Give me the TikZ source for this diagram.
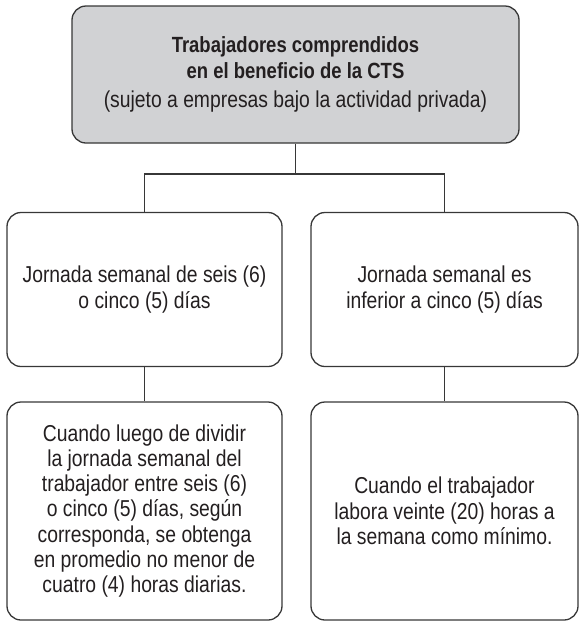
\documentclass[tikz,border=0pt]{standalone}
\usepackage{fontspec}
\setmainfont{Liberation Sans}[FakeStretch=0.84]
\definecolor{topgray}{RGB}{209,210,212}
\definecolor{linec}{RGB}{55,55,55}
\definecolor{txtc}{RGB}{35,31,32}
\tikzset{
  box/.style={draw=linec, line width=1.3pt, rounded corners=14pt, align=center,
    inner sep=0pt, text=txtc, font=\fontsize{23}{25.3}\selectfont},
  conn/.style={draw=linec, line width=1.4pt}
}
\begin{document}
\begin{tikzpicture}[x=1pt,y=-1pt]
\useasboundingbox (0,0) rectangle (579,622);
\node[box, fill=topgray, minimum width=447pt, minimum height=137pt,
      font=\fontsize{23}{25.6}\selectfont] (top) at (295.5,74.5)
  {{\fontsize{22}{25.6}\selectfont\bfseries Trabajadores comprendidos}\\{\fontsize{22}{25.6}\selectfont\bfseries en el beneficio de la CTS}\\[3.1pt](sujeto a empresas bajo la actividad privada)};
\node[box, minimum width=275pt, minimum height=154pt] (lm) at (144.5,289.5)
  {Jornada semanal de seis (6)\\o cinco (5) días};
\node[box, minimum width=267pt, minimum height=154pt] (rm) at (444.5,289.5)
  {Jornada semanal es\\inferior a cinco (5) días};
\node[box, minimum width=275pt, minimum height=218pt] (lb) at (144.5,511)
  {Cuando luego de dividir\\la jornada semanal del\\trabajador entre seis (6)\\o cinco (5) días, según\\corresponda, se obtenga\\en promedio no menor de\\cuatro (4) horas diarias.};
\node[box, minimum width=267pt, minimum height=218pt] (rb) at (444.5,511)
  {Cuando el trabajador\\labora veinte (20) horas a\\la semana como mínimo.};
\coordinate (bus) at (295.5,174);
\draw[conn] (top.south) -- (bus);
\draw[conn] (lm.north) |- (bus) -| (rm.north);
\draw[conn] (lm.south) -- (lb.north);
\draw[conn] (rm.south) -- (rb.north);
\end{tikzpicture}
\end{document}
